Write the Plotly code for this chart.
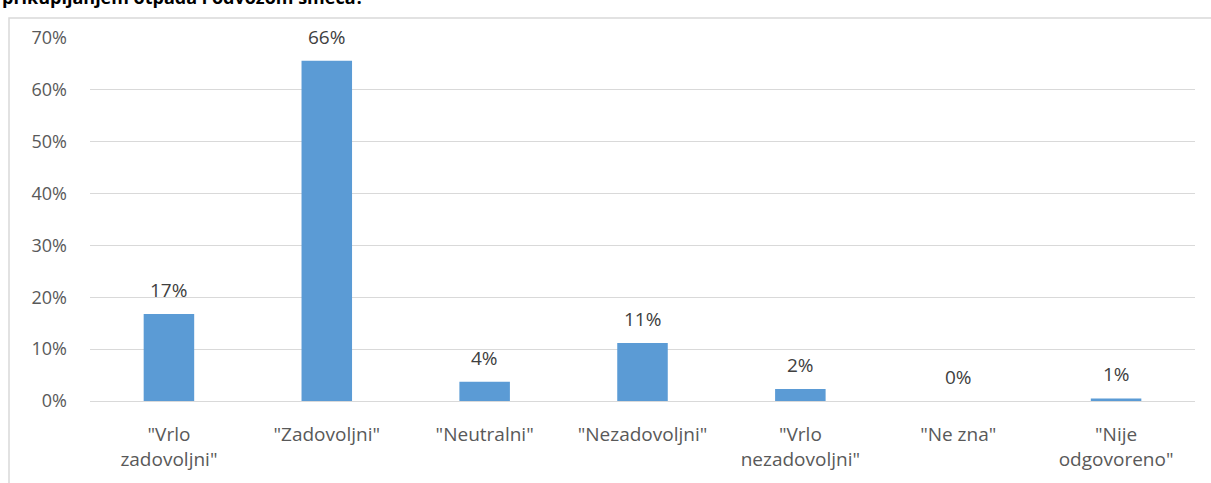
import plotly.graph_objects as go

categories = ['"Vrlo<br>zadovoljni"', '"Zadovoljni"', '"Neutralni"', '"Nezadovoljni"',
              '"Vrlo<br>nezadovoljni"', '"Ne zna"', '"Nije<br>odgovoreno"']
values = [16.8, 65.6, 3.7, 11.2, 2.3, 0.0, 0.5]
value_labels = ["17%", "66%", "4%", "11%", "2%", "0%", "1%"]
y_ticks = [0, 10, 20, 30, 40, 50, 60, 70]
y_tick_labels = ["0%", "10%", "20%", "30%", "40%", "50%", "60%", "70%"]
title_text = "prikupljanjem otpada i odvozom smeća?"

font_family = "Open Sans, Liberation Sans, sans-serif"
text_color = "#595959"

fig = go.Figure()
fig.add_trace(go.Bar(
    x=categories, y=values,
    marker=dict(color="#5b9bd5", line=dict(width=0)),
    width=0.32, hoverinfo="skip",
))

annotations = []
for c, v, lab in zip(categories, values, value_labels):
    annotations.append(dict(x=c, y=v, xref="x", yref="y", text=lab, showarrow=False,
                            yanchor="bottom", yshift=9,
                            font=dict(size=19, color="#404040", family=font_family)))

L, R, T, B = 90, 16, 38, 82
W, H = 1211, 483
pw, ph = W - L - R, H - T - B

annotations.append(dict(text="<b>" + title_text + "</b>", xref="paper", yref="paper",
                        x=(0 - L) / pw, y=(H - B - 11) / ph, xanchor="left", yanchor="bottom",
                        showarrow=False, font=dict(size=18, color="#000000", family=font_family)))

fig.update_layout(
    width=W, height=H,
    margin=dict(l=L, r=R, t=T, b=B, pad=0),
    paper_bgcolor="white", plot_bgcolor="white",
    showlegend=False,
    font=dict(family=font_family, color=text_color, size=19),
    xaxis=dict(showgrid=False, showline=False, ticks="", tickfont=dict(size=19, color=text_color),
               tickangle=0, ticklabelstandoff=20, fixedrange=True),
    yaxis=dict(range=[0, 70], tickvals=y_ticks, ticktext=y_tick_labels,
               showgrid=True, gridcolor="#d9d9d9", gridwidth=1,
               zeroline=True, zerolinecolor="#d9d9d9", zerolinewidth=1,
               showline=False, ticks="", ticklabelstandoff=22,
               tickfont=dict(size=18, color=text_color), fixedrange=True),
    shapes=[dict(type="rect", xref="paper", yref="paper",
                 x0=(9 - L) / pw, x1=(W + 20 - L) / pw,
                 y0=-(B + 20) / ph, y1=(H - B - 18) / ph,
                 line=dict(color="#d9d9d9", width=1.5), fillcolor="rgba(0,0,0,0)", layer="below")],
    annotations=annotations,
)

fig.write_html("out.html", config={"displayModeBar": False},
               post_script="document.body.style.margin='0';document.body.style.overflow='hidden';")
